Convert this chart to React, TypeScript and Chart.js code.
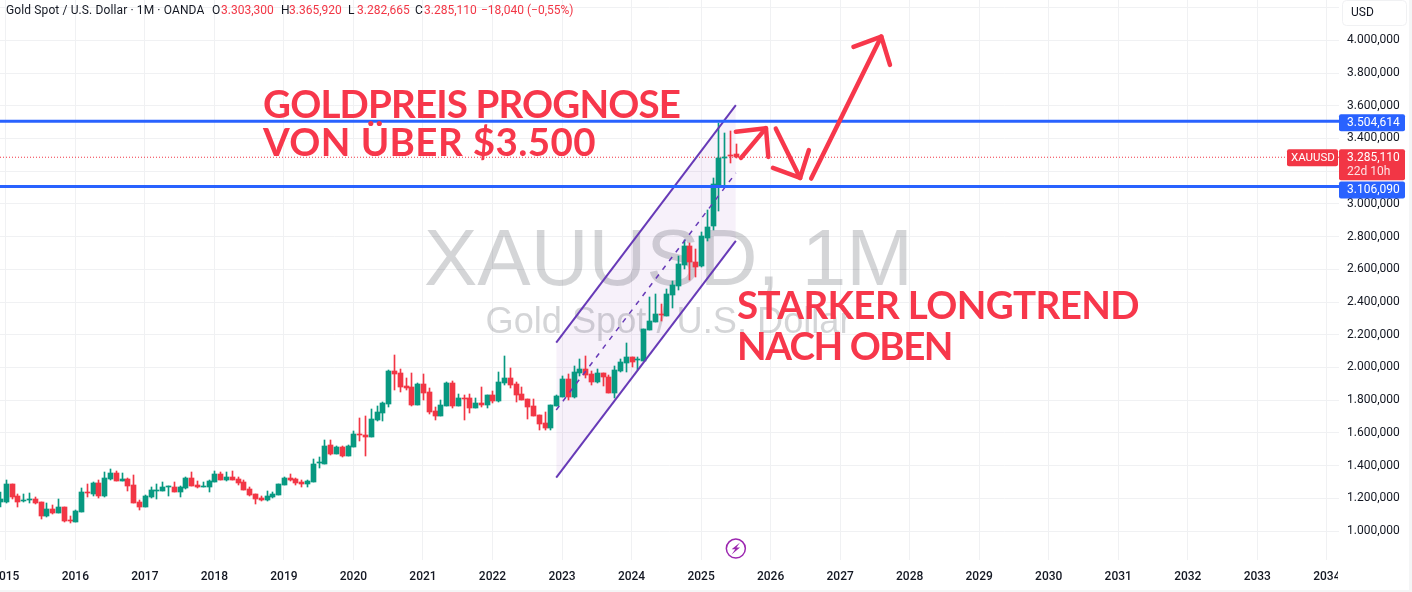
import React, { useEffect, useRef } from "react";
import { Chart, registerables } from "chart.js";

Chart.register(...registerables);

// Month index: 0 = Jan 2016. First candle is Dec 2014.
const FIRST_MONTH = -13;

const opens = [
  1177,
  1177, 1288, 1214, 1184, 1190, 1196, 1177, 1092, 1135, 1110, 1147, 1067,
  1055, 1116, 1239, 1227, 1294, 1214, 1318, 1355, 1306, 1318, 1282, 1177,
  1147, 1208, 1245, 1245, 1269, 1269, 1239, 1263, 1324, 1282, 1269, 1269,
  1300, 1349, 1312, 1331, 1318, 1300, 1257, 1226, 1202, 1190, 1208, 1220,
  1282, 1324, 1318, 1298, 1285, 1303, 1415, 1412, 1525, 1474, 1516, 1462,
  1514, 1594, 1588, 1575, 1679, 1722, 1777, 1979, 1967, 1887, 1881, 1771,
  1900, 1851, 1734, 1704, 1765, 1906, 1765, 1814, 1814, 1753, 1783, 1771,
  1832, 1796, 1906, 1936, 1900, 1839, 1808, 1765, 1710, 1661, 1630, 1765,
  1820, 1930, 1820, 1967, 1992, 1961, 1912, 1967, 1943, 1845, 1979, 2028,
  2065, 2047, 2040, 2230, 2279, 2328, 2316, 2444, 2500, 2628, 2744, 2646,
  2622, 2793, 2867, 3118, 3283, 3300, 3303.3,
];
const highs = [
  1239,
  1312, 1288, 1226, 1226, 1233, 1208, 1177, 1171, 1159, 1196, 1147, 1092,
  1129, 1263, 1288, 1300, 1312, 1361, 1379, 1367, 1355, 1325, 1343, 1190,
  1220, 1269, 1288, 1300, 1275, 1300, 1275, 1331, 1361, 1306, 1300, 1312,
  1367, 1361, 1361, 1367, 1331, 1312, 1269, 1226, 1214, 1245, 1239, 1288,
  1331, 1349, 1326, 1310, 1315, 1443, 1455, 1559, 1559, 1522, 1522, 1525,
  1612, 1692, 1704, 1747, 1765, 1790, 1985, 2077, 1991, 1936, 1967, 1906,
  1961, 1875, 1759, 1802, 1912, 1918, 1839, 1832, 1839, 1814, 1881, 1832,
  1857, 1973, 2071, 1998, 1912, 1881, 1808, 1808, 1710, 1728, 1771, 1832,
  1949, 1961, 2010, 2053, 2071, 1979, 1992, 1967, 1955, 2010, 2053, 2151,
  2065, 2065, 2236, 2432, 2451, 2389, 2481, 2530, 2683, 2781, 2763, 2726,
  2827, 2960, 3160, 3495, 3434, 3448, 3365.92,
];
const lows = [
  1149,
  1173, 1196, 1147, 1177, 1171, 1165, 1074, 1086, 1104, 1110, 1055, 1049,
  1055, 1116, 1208, 1214, 1202, 1208, 1312, 1306, 1306, 1245, 1171, 1129,
  1147, 1202, 1196, 1245, 1214, 1239, 1208, 1257, 1275, 1263, 1269, 1239,
  1300, 1312, 1306, 1312, 1282, 1251, 1214, 1165, 1184, 1184, 1202, 1220,
  1282, 1306, 1281, 1268, 1270, 1303, 1388, 1412, 1468, 1474, 1455, 1458,
  1514, 1551, 1461, 1575, 1673, 1673, 1759, 1863, 1851, 1863, 1765, 1771,
  1802, 1716, 1679, 1704, 1765, 1753, 1765, 1679, 1722, 1753, 1759, 1753,
  1783, 1790, 1894, 1875, 1790, 1802, 1685, 1704, 1618, 1618, 1618, 1765,
  1820, 1802, 1814, 1949, 1936, 1894, 1906, 1887, 1845, 1814, 1973, 1973,
  2004, 1985, 2040, 2230, 2279, 2285, 2316, 2365, 2475, 2603, 2536, 2555,
  2612, 2775, 2840, 2959, 3118, 3250, 3282.665,
];
const closes = [
  1194,
  1288, 1208, 1177, 1190, 1196, 1171, 1092, 1135, 1110, 1147, 1061, 1061,
  1122, 1239, 1233, 1294, 1214, 1324, 1355, 1306, 1318, 1275, 1171, 1147,
  1214, 1251, 1251, 1269, 1275, 1239, 1269, 1324, 1275, 1269, 1275, 1306,
  1349, 1312, 1331, 1312, 1294, 1251, 1220, 1196, 1190, 1214, 1226, 1288,
  1324, 1312, 1291, 1289, 1309, 1413, 1419, 1522, 1474, 1516, 1462, 1522,
  1594, 1588, 1575, 1686, 1728, 1783, 1979, 1961, 1881, 1875, 1771, 1900,
  1845, 1728, 1704, 1771, 1906, 1765, 1814, 1808, 1753, 1783, 1771, 1832,
  1796, 1912, 1936, 1894, 1832, 1802, 1759, 1704, 1655, 1630, 1771, 1826,
  1930, 1820, 1973, 1992, 1955, 1912, 1967, 1943, 1845, 1985, 2034, 2065,
  2034, 2053, 2236, 2285, 2328, 2322, 2451, 2506, 2634, 2744, 2646, 2616,
  2805, 2860, 3124, 3282, 3287, 3295, 3285.11,
];

const yearTicks = [2015, 2016, 2017, 2018, 2019, 2020, 2021, 2022, 2023, 2024, 2025, 2026, 2027, 2028, 2029, 2030, 2031, 2032, 2033, 2034];
const priceTicks = [1000, 1200, 1400, 1600, 1800, 2000, 2200, 2400, 2600, 2800, 3000, 3200, 3400, 3600, 3800, 4000, 4200];

const levels = [3504.614, 3106.09];
const lastPrice = 3285.11;

const channelMonths = [83, 114];
const channelTop = [2152, 3604];
const channelMid = [1740, 3189];
const channelBottom = [1327, 2774];

const arrowShafts = [
  [[114.9, 3281], [119.2, 3463]],
  [[120.9, 3460], [125.1, 3159]],
  [[127, 3155], [139.1, 4023]],
];
const arrowHeads = [
  [[114.0, 3441], [119.2, 3463], [119.6, 3287]],
  [[120.4, 3220], [125.1, 3159], [126.6, 3329]],
  [[134.3, 3960], [139.1, 4023], [140.6, 3850]],
];

const noteTexts = [
  ["GOLDPREIS PROGNOSE", 32.4, 3527, 417],
  ["VON ÜBER $3.500", 32.4, 3291, 333],
  ["STARKER LONGTREND", 114.2, 2294, 402],
  ["NACH OBEN", 114.2, 2047, 215],
] as const;

const UP = "#089981";
const DOWN = "#f23645";
const NOTE = "#f7374b";
const BLUE = "#2962ff";
const PURPLE = "#673ab7";
const GRID = "#f0f1f3";
const INK = "#131722";
const UI = "Roboto, sans-serif";
const NOTE_FONT = "700 38.5px Lato, sans-serif";

const X_MIN = -13;
const X_MAX = 218.1;
const Y_MIN = 823.3;
const Y_MAX = 4246.3;

const fmt = (v: number) =>
  v.toLocaleString("de-DE", { minimumFractionDigits: 3, maximumFractionDigits: 3 });

const pts = (xs: number[], ys: number[]) => xs.map((x, i) => ({ x, y: ys[i] }));
const pairs = (a: number[][]) => a.map(([x, y]) => ({ x, y }));

const lineBase = { type: "line", pointRadius: 0, tension: 0, fill: false };

function box(ctx: CanvasRenderingContext2D, x: number, y: number, w: number, h: number, r: number, color: string) {
  ctx.fillStyle = color;
  ctx.beginPath();
  ctx.roundRect(x, y, w, h, r);
  ctx.fill();
}

const chrome = {
  id: "chrome",
  beforeDraw(chart: any) {
    const { ctx, width, height } = chart;
    ctx.save();
    ctx.fillStyle = "#f4f5f6";
    ctx.fillRect(0, 0, width, height);
    ctx.fillStyle = "#ffffff";
    ctx.fillRect(0, 0, 1409, 590);
    ctx.restore();
  },
  afterDatasetsUpdate(chart: any) {
    chart.data.datasets.forEach((ds: any, i: number) => {
      if (ds.type !== "bar") return;
      chart.getDatasetMeta(i).data.forEach((el: any) => {
        el.x = Math.round(el.x) + 0.5;
        const a = Math.round(el.y);
        let b = Math.round(el.base);
        if (a === b) b = a + 1;
        el.y = a;
        el.base = b;
      });
    });
  },
  beforeDatasetsDraw(chart: any) {
    const { ctx, chartArea } = chart;
    const cx = (chartArea.left + chartArea.right) / 2 - 1;
    ctx.save();
    ctx.textAlign = "center";
    ctx.textBaseline = "alphabetic";
    ctx.fillStyle = "rgba(42,46,57,0.2)";
    ctx.font = "80px 'Liberation Sans', sans-serif";
    ctx.fillText("XAUUSD, 1M", cx, 285);
    ctx.font = "36.2px 'Liberation Sans', sans-serif";
    ctx.fillText("Gold Spot / U.S. Dollar", cx, 333);
    ctx.restore();
  },
  afterDraw(chart: any) {
    const { ctx, scales } = chart;
    const sx = scales.x;
    const sy = scales.y;
    ctx.save();

    // clip the last time label at the price axis edge
    ctx.fillStyle = "#ffffff";
    ctx.fillRect(1338, 562, 10, 27);

    // drawn notes, spaced to their measured widths
    ctx.textAlign = "left";
    ctx.textBaseline = "alphabetic";
    ctx.font = NOTE_FONT;
    ctx.fillStyle = NOTE;
    noteTexts.forEach(([t, m, p, w]) => {
      ctx.letterSpacing = "0px";
      const spare = (w - ctx.measureText(t).width) / t.length;
      ctx.letterSpacing = `${spare}px`;
      ctx.fillText(t, sx.getPixelForValue(m), sy.getPixelForValue(p));
    });
    ctx.letterSpacing = "0px";

    // header
    ctx.font = `12px ${UI}`;
    ctx.textBaseline = "middle";
    const hy = 11;
    ctx.fillStyle = INK;
    ctx.letterSpacing = "0.12px";
    ctx.fillText("Gold Spot / U.S. Dollar · 1M · OANDA", 6, hy);
    ctx.letterSpacing = "0px";
    const heads: [string, string, number, number][] = [
      ["O", fmt(opens[opens.length - 1]), 212, 221],
      ["H", fmt(highs[highs.length - 1]), 281, 289],
      ["L", fmt(lows[lows.length - 1]), 348, 357],
      ["C", fmt(closes[closes.length - 1]), 415, 424],
    ];
    heads.forEach(([k, v, kx, vx]) => {
      ctx.fillStyle = INK;
      ctx.fillText(k, kx, hy);
      ctx.fillStyle = DOWN;
      ctx.fillText(v, vx, hy);
    });
    ctx.fillText("−18,040 (−0,55%)", 481, hy);

    // price axis labels
    const yTop = sy.getPixelForValue(levels[0]);
    const yBot = sy.getPixelForValue(levels[1]);
    const yLast = sy.getPixelForValue(lastPrice);
    box(ctx, 1339, yLast - 8, 66, 31, 2, DOWN);
    box(ctx, 1287, yLast - 8, 51, 17, 2, DOWN);
    box(ctx, 1339, yTop - 7, 66, 17, 2, BLUE);
    box(ctx, 1339, yBot - 5, 66, 17, 2, BLUE);
    ctx.fillStyle = "#ffffff";
    ctx.fillText(fmt(levels[0]), 1347, yTop + 1.5);
    ctx.fillText(fmt(levels[1]), 1347, yBot + 3.5);
    ctx.fillText(fmt(lastPrice), 1347, yLast + 0.5);
    ctx.fillStyle = "rgba(255,255,255,0.85)";
    ctx.fillText("22d 10h", 1347, yLast + 14.5);
    ctx.fillStyle = "#ffffff";
    ctx.font = `11.5px ${UI}`;
    ctx.fillText("XAUUSD", 1291, yLast + 0.5);
    ctx.font = `12px ${UI}`;

    // currency button
    ctx.fillStyle = "#ffffff";
    ctx.strokeStyle = "#f0f1f3";
    ctx.lineWidth = 1;
    ctx.beginPath();
    ctx.roundRect(1342.5, 0.5, 64, 25, 4);
    ctx.fill();
    ctx.stroke();
    ctx.fillStyle = INK;
    ctx.fillText("USD", 1351, 13);

    // lightning badge
    const bx = sx.getPixelForValue(114);
    const by = sy.getPixelForValue(893);
    ctx.strokeStyle = "#9c27b0";
    ctx.lineWidth = 1.5;
    ctx.beginPath();
    ctx.arc(bx, by, 9.5, 0, Math.PI * 2);
    ctx.stroke();
    ctx.fillStyle = "#9c27b0";
    ctx.beginPath();
    ctx.moveTo(bx + 4.2, by - 6);
    ctx.lineTo(bx - 4.2, by + 0.6);
    ctx.lineTo(bx - 0.6, by + 0.6);
    ctx.lineTo(bx - 4.2, by + 6);
    ctx.lineTo(bx + 4.2, by - 1);
    ctx.lineTo(bx + 0.6, by - 1);
    ctx.closePath();
    ctx.fill();
    ctx.restore();
  },
};

export default function App() {
  const ref = useRef<HTMLCanvasElement | null>(null);
  useEffect(() => {
    if (!ref.current) return;
    const months = opens.map((_, i) => FIRST_MONTH + i);
    const colors = opens.map((o, i) => (closes[i] >= o ? UP : DOWN));
    const chart = new Chart(ref.current, {
      type: "bar",
      plugins: [chrome],
      data: {
        datasets: [
          {
            ...lineBase,
            data: pts(channelMonths, channelTop),
            borderColor: PURPLE,
            borderWidth: 2,
            fill: { target: 1 },
            backgroundColor: "rgba(130,50,180,0.065)",
            order: 3,
          },
          { ...lineBase, data: pts(channelMonths, channelBottom), borderColor: PURPLE, borderWidth: 2, order: 3 },
          { ...lineBase, data: pts(channelMonths, channelMid), borderColor: PURPLE, borderWidth: 1.5, borderDash: [5, 6], order: 3 },
          ...levels.map((l) => ({
            ...lineBase,
            data: pts([X_MIN, X_MAX], [l, l]),
            borderColor: BLUE,
            borderWidth: 3,
            order: 2,
          })),
          {
            ...lineBase,
            data: pts([X_MIN, X_MAX], [lastPrice, lastPrice]),
            borderColor: DOWN,
            borderWidth: 1,
            borderDash: [1, 2],
            order: 6,
          },
          ...arrowShafts.concat(arrowHeads).map((a) => ({
            ...lineBase,
            data: pairs(a),
            borderColor: NOTE,
            borderWidth: 4.5,
            borderCapStyle: "round",
            borderJoinStyle: "round",
            order: 1,
          })),
          {
            type: "bar",
            data: months.map((x, i) => ({ x, y: [Math.min(opens[i], closes[i]), Math.max(opens[i], closes[i])] })),
            backgroundColor: colors,
            barThickness: 5,
            minBarLength: 1,
            grouped: false,
            order: 4,
          },
          {
            type: "bar",
            data: months.map((x, i) => ({ x, y: [lows[i], highs[i]] })),
            backgroundColor: colors,
            barThickness: 1,
            grouped: false,
            order: 5,
          },
        ] as any,
      },
      options: {
        responsive: false,
        animation: false,
        devicePixelRatio: 1,
        layout: { padding: 0 },
        plugins: {
          legend: { display: false },
          tooltip: { enabled: false },
          title: { display: false },
          filler: { drawTime: "beforeDatasetsDraw" },
        },
        scales: {
          x: {
            type: "linear",
            offset: false,
            min: X_MIN,
            max: X_MAX,
            afterBuildTicks(s: any) {
              s.ticks = yearTicks.map((yr) => ({ value: (yr - 2016) * 12 }));
            },
            afterFit(s: any) {
              s.height = 32;
              s.paddingLeft = 0;
              s.paddingRight = 0;
            },
            grid: { color: GRID, lineWidth: 1, offset: false, drawTicks: false, tickLength: 0 },
            border: { display: false },
            ticks: {
              autoSkip: false,
              maxRotation: 0,
              padding: 10,
              color: INK,
              font: { family: "Roboto", size: 12, weight: "500" },
              callback: (v: any) => String(2016 + Math.round(Number(v) / 12)),
            },
          },
          y: {
            type: "linear",
            position: "right",
            min: Y_MIN,
            max: Y_MAX,
            afterBuildTicks(s: any) {
              s.ticks = priceTicks.map((value) => ({ value }));
            },
            afterFit(s: any) {
              s.width = 73;
              s.paddingTop = 0;
              s.paddingBottom = 0;
            },
            grid: { color: GRID, lineWidth: 1, drawTicks: false, tickLength: 0 },
            border: { display: false },
            ticks: {
              autoSkip: false,
              padding: 8,
              color: INK,
              font: { family: "Roboto", size: 12 },
              callback: (v: any) => fmt(Number(v)),
            },
          },
        },
      } as any,
    });
    return () => chart.destroy();
  }, []);
  return (
    <div style={{ position: "fixed", left: 0, top: 0, width: 1412, height: 592, background: "#fff" }}>
      <canvas ref={ref} width={1412} height={592} style={{ display: "block" }} />
    </div>
  );
}
